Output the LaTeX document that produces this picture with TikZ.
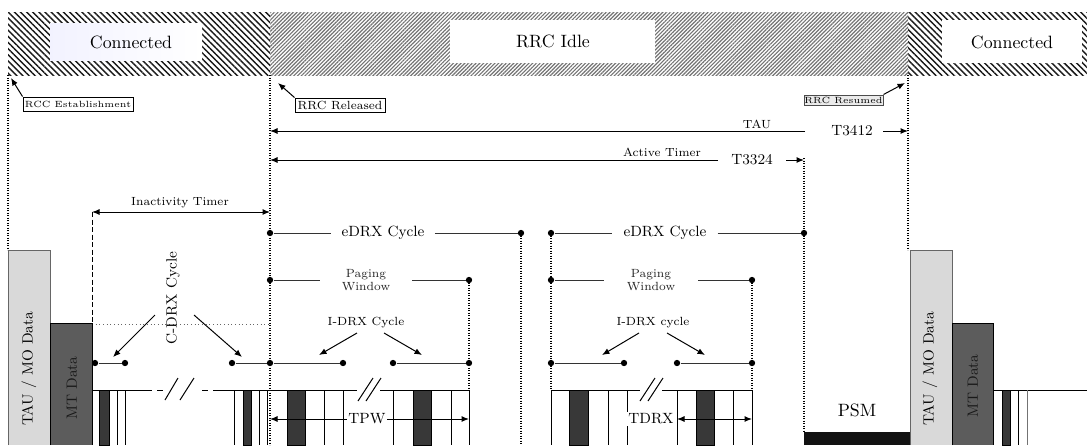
\documentclass[tikz,border=0pt]{standalone}
\usetikzlibrary{patterns.meta,arrows.meta}
\begin{document}
\begin{tikzpicture}[x=0.6pt,y=-0.6pt,
  ln/.style={line width=0.6pt},
  gln/.style={line width=0.6pt, draw=black!80},
  dotl/.style={line width=0.7pt, dash pattern=on 0.7pt off 0.8pt},
  tipA/.style={line width=0.6pt,-{Latex[length=4.5pt,width=3.6pt]}},
  tipB/.style={line width=0.6pt,{Latex[length=4.5pt,width=3.6pt]}-{Latex[length=4.5pt,width=3.6pt]}},
  bul/.style={circle,fill=black,inner sep=0pt,minimum size=3.8pt},
  bigf/.style={font=\fontsize{10.7}{12.5}\selectfont},
  midf/.style={font=\fontsize{8.9}{10.5}\selectfont},
  smf/.style={font=\fontsize{7.1}{8.2}\selectfont},
  tnf/.style={font=\fontsize{5.4}{6.5}\selectfont},
  darkslot/.style={fill=black!78, draw=black, line width=0.5pt},
  slotln/.style={line width=0.6pt},
  tag/.style={draw=black, line width=0.6pt, fill=white, inner sep=0pt},
]
\useasboundingbox (0,0) rectangle (1087,445);
\fill[white] (0,0) rectangle (1087,445);

% ---------- state band ----------
\path[pattern={Lines[angle=-45,distance=2.6pt,line width=0.85pt]},pattern color=black!90] (8,12) rectangle (270,75);
\path[pattern={Lines[angle=45,distance=1.6pt,line width=0.7pt]},pattern color=black!55] (270,12) rectangle (908,75);
\path[pattern={Lines[angle=-45,distance=2.6pt,line width=0.85pt]},pattern color=black!90] (908,12) rectangle (1087,75);
\shade[left color=blue!5, right color=white] (50,23) rectangle (202,60);
\fill[white] (450,20) rectangle (655,63);
\fill[white] (942,20) rectangle (1082,63);
\node[bigf] (conL) at (131,42) {Connected};
\node[bigf] (idle) at (553,41) {RRC Idle};
\node[bigf] (conR) at (1012,42) {Connected};

% ---------- dotted guide lines ----------
\draw[dotl] (8,75) -- (8,250);
\draw[dotl] (270,75) -- (270,445);
\draw[dotl] (908,75) -- (908,250);
\draw[dotl] (804,158) -- (804,432);
\draw[dotl] (521,233) -- (521,445);
\draw[dotl] (551,233) -- (551,390);
\draw[dotl] (469,280) -- (469,390);
\draw[dotl] (752,280) -- (752,390);

% ---------- event tags ----------
\node[tag, tnf, minimum width=66pt, minimum height=8.4pt] (est) at (78,104) {RCC Establishment};
\coordinate (estP) at (11,78);
\draw[tipA] (est.north west) -- (estP);
\node[tag, smf, minimum width=54pt, minimum height=8.4pt] (rel) at (340,105) {RRC Released};
\coordinate (relP) at (278,83);
\draw[tipA] (rel.north west) -- (relP);
\node[tag, tnf, fill=black!8, draw=black!70, minimum width=47.4pt, minimum height=6pt] (res) at (843.5,100) {RRC Resumed};
\coordinate (resP) at (905,83);
\draw[tipA] (res.north east) -- (resP);

% ---------- timers ----------
\coordinate (tauE) at (805,131);
\coordinate (tauL) at (270,131);
\draw[tipA] (tauE) -- (tauL);
\node[smf, anchor=south, inner sep=0.6pt] (taul) at (757,130) {TAU};
\node[midf] (t3412) at (852,131) {T3412};
\coordinate (t3412a) at (883,131);
\coordinate (t3412b) at (908,131);
\draw[tipA] (t3412a) -- (t3412b);

\coordinate (actE) at (718,160);
\coordinate (actL) at (270,160);
\draw[tipA] (actE) -- (actL);
\node[smf, anchor=south, inner sep=0.6pt] (actl) at (662,158) {Active Timer};
\node[midf] (t3324) at (752,160) {T3324};
\coordinate (t3324a) at (786,160);
\coordinate (t3324b) at (804,160);
\draw[tipA] (t3324a) -- (t3324b);

\coordinate (inaL) at (92,212);
\coordinate (inaR) at (270,212);
\draw[tipB] (inaL) -- (inaR);
\node[smf, anchor=south, inner sep=1pt] (inal) at (180,210) {Inactivity Timer};
\draw[line width=0.6pt, dash pattern=on 3pt off 1.5pt] (inaL) -- (92,390);
\draw[black!60, line width=0.5pt, dash pattern=on 0.6pt off 1.6pt] (92,324) -- (270,324);

% ---------- data boxes ----------
\draw[fill=black!15, draw=black!60, line width=0.6pt] (8,445) -- (8,250) -- (50,250) -- (50,445);
\draw[fill=black!64, draw=black, line width=0.6pt] (50,445) -- (50,323) -- (92,323) -- (92,445);
\node[midf, rotate=90] (tauL1) at (29,369) {TAU / MO Data};
\node[midf, rotate=90, text=black!90] (mtL1) at (72,388) {MT Data};
\draw[fill=black!15, draw=black!60, line width=0.6pt] (910,445) -- (910,250) -- (952,250) -- (952,445);
\draw[fill=black!64, draw=black, line width=0.6pt] (952,445) -- (952,323) -- (993,323) -- (993,445);
\node[midf, rotate=90] (tauR1) at (930,369) {TAU / MO Data};
\node[midf, rotate=90, text=black!90] (mtR1) at (973,386) {MT Data};
\fill[black!93] (804,432) rectangle (910,445);
\node[bigf] (psm) at (857,410) {PSM};

% ---------- eDRX cycles ----------
\node[bul] (e1a) at (270,233) {};
\node[bul] (e1b) at (521,233) {};
\node[midf, inner xsep=6pt] (e1t) at (383,233) {eDRX Cycle};
\draw[gln] (e1a) -- (e1t) -- (e1b);
\node[bul] (e2a) at (551,233) {};
\node[bul] (e2b) at (804,233) {};
\node[midf, inner xsep=6.5pt] (e2t) at (665,233) {eDRX Cycle};
\draw[gln] (e2a) -- (e2t) -- (e2b);

% ---------- paging windows ----------
\node[bul] (p1a) at (270,280) {};
\node[bul] (p1b) at (469,280) {};
\node[smf, align=center, inner xsep=13pt, text=black!85] (p1t) at (366,280) {Paging\\Window};
\draw[gln] (p1a) -- (p1t) -- (p1b);
\node[bul] (p2a) at (551,280) {};
\node[bul] (p2b) at (752,280) {};
\node[smf, align=center, inner xsep=13.5pt, text=black!85] (p2t) at (651,280) {Paging\\Window};
\draw[gln] (p2a) -- (p2t) -- (p2b);

% ---------- I-DRX cycles ----------
\node[smf] (i1t) at (366,323) {I-DRX Cycle};
\node[bul] (i1a) at (270,363) {};
\node[bul] (i1b) at (343,363) {};
\node[bul] (i1c) at (393,363) {};
\node[bul] (i1d) at (469,363) {};
\draw[gln] (i1a) -- (i1b);
\draw[gln] (i1c) -- (i1d);
\coordinate (i1s1) at (357,333); \coordinate (i1e1) at (319,355);
\coordinate (i1s2) at (384,333); \coordinate (i1e2) at (422,355);
\draw[tipA] (i1s1) -- (i1e1);
\draw[tipA] (i1s2) -- (i1e2);

\node[smf] (i2t) at (653,323) {I-DRX cycle};
\node[bul] (i2a) at (551,363) {};
\node[bul] (i2b) at (624,363) {};
\node[bul] (i2c) at (677,363) {};
\node[bul] (i2d) at (752,363) {};
\draw[gln] (i2a) -- (i2b);
\draw[gln] (i2c) -- (i2d);
\coordinate (i2s1) at (639,333); \coordinate (i2e1) at (602,355);
\coordinate (i2s2) at (667,333); \coordinate (i2e2) at (705,355);
\draw[tipA] (i2s1) -- (i2e1);
\draw[tipA] (i2s2) -- (i2e2);

% ---------- C-DRX ----------
\node[midf, rotate=90] (cdrx) at (173,298) {C-DRX Cycle};
\node[bul] (c1a) at (95,363) {};
\node[bul] (c1b) at (125,363) {};
\node[bul] (c2a) at (232,363) {};
\draw[gln] (c1a) -- (c1b);
\draw[gln] (c2a) -- (i1a);
\coordinate (cs1) at (155,315); \coordinate (ce1) at (113,357);
\coordinate (cs2) at (194,315); \coordinate (ce2) at (242,357);
\draw[tipA] (cs1) -- (ce1);
\draw[tipA] (cs2) -- (ce2);

% ---------- slot rows ----------
\draw[ln] (92,390) -- (152,390);
\draw[ln] (157,390) -- (163,390);
\draw[ln] (202,390) -- (208,390);
\draw[ln] (213,390) -- (270,390);
\draw[ln] (165,400) -- (178,378);
\draw[ln] (180,400) -- (194,378);
\draw[ln] (270,390) -- (357,390);
\draw[ln] (380,390) -- (469,390);
\draw[ln] (358,401) -- (373,378);
\draw[ln] (366,401) -- (381,378);
\draw[ln] (551,390) -- (640,390);
\draw[ln] (662,390) -- (752,390);
\draw[ln] (640,401) -- (655,378);
\draw[ln] (648,401) -- (663,378);
\draw[ln] (993,390) -- (1087,390);

\foreach \x in {117,125,234,259,267,324,343,393,451,469,551,608,627,677,733,752,1018}
  \draw[slotln] (\x,390) -- (\x,445);
\draw[slotln, black!55] (1027,390) -- (1027,445);
\foreach \a/\b in {99/109,243/251,287/305,413/431,569/588,696/714,1002/1010}
  \draw[darkslot] (\a,390) rectangle (\b,445);

% ---------- TPW / TDRX ----------
\coordinate (tpwL) at (270,419);
\coordinate (tpwR) at (469,419);
\node[midf, fill=white, inner sep=0.8pt] (tpw) at (367,419) {TPW};
\draw[tipA] (tpw) -- (tpwL);
\draw[tipA] (tpw) -- (tpwR);
\node[midf, fill=white, inner sep=0.8pt] (tdrx) at (651,419) {TDRX};
\coordinate (tdA) at (677,419);
\coordinate (tdB) at (752,419);
\draw[tipB] (tdA) -- (tdB);
\end{tikzpicture}
\end{document}
